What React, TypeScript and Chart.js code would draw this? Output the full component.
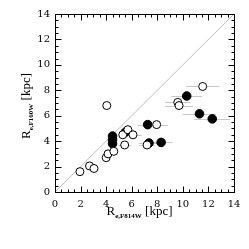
import React, { useEffect, useRef } from "react";
import { Chart, registerables } from "chart.js";

Chart.register(...registerables);

// Open circles
const openX = [1.95, 2.7, 3.05, 4.0, 4.15, 4.6, 4.05, 5.3, 5.45, 5.7, 6.1, 7.95, 7.2, 9.6, 9.7, 11.55];
const openY = [1.6, 2.05, 1.85, 2.7, 3.0, 3.2, 6.8, 4.5, 3.7, 4.9, 4.5, 5.3, 3.7, 7.05, 6.8, 8.3];
const openXErr = [0.1, 0.2, 0.2, 0.2, 0.2, 0.3, 0.35, 0.3, 0.5, 0.4, 0.7, 0.9, 0.6, 1.0, 1.1, 1.3];

// Filled circles
const filledX = [4.5, 4.5, 4.5, 5.5, 7.25, 7.35, 8.3, 10.3, 11.3, 12.3];
const filledY = [4.4, 4.1, 3.8, 4.7, 5.3, 3.85, 3.9, 7.55, 6.15, 5.75];
const filledXErr = [0.2, 0.2, 0.2, 0.4, 0.8, 0.8, 0.9, 1.2, 1.3, 1.4];

const axisMin = 0;
const axisMax = 14;
const majorStep = 2;
const minorStep = 0.5;

const serif = "'DejaVu Serif', serif";
const titleSerif = "'Liberation Serif', serif";

const drawSubLabel = (ctx: CanvasRenderingContext2D, main: string, sub: string, rest: string) => {
  const mainFont = `13px ${titleSerif}`;
  const subFont = `bold 7px ${titleSerif}`;
  ctx.font = mainFont;
  const w1 = ctx.measureText(main).width;
  const w3 = ctx.measureText(rest).width;
  ctx.font = subFont;
  const w2 = ctx.measureText(sub).width;
  const total = w1 + w2 + w3;
  let x = -total / 2;
  ctx.textBaseline = "alphabetic";
  ctx.textAlign = "left";
  ctx.font = mainFont;
  ctx.fillText(main, x, 0);
  x += w1;
  ctx.font = subFont;
  ctx.fillText(sub, x, 3);
  x += w2;
  ctx.font = mainFont;
  ctx.fillText(rest, x, 0);
};

const framePlugin = {
  id: "frame",
  beforeDatasetsDraw(chart: any) {
    const { ctx, chartArea, scales } = chart;
    const xs = scales.x;
    const ys = scales.y;
    ctx.save();
    ctx.beginPath();
    ctx.rect(chartArea.left, chartArea.top, chartArea.right - chartArea.left, chartArea.bottom - chartArea.top);
    ctx.clip();
    // diagonal y = x
    ctx.strokeStyle = "#bdbdbd";
    ctx.lineWidth = 1;
    ctx.beginPath();
    ctx.moveTo(xs.getPixelForValue(axisMin), ys.getPixelForValue(axisMin));
    ctx.lineTo(xs.getPixelForValue(axisMax), ys.getPixelForValue(axisMax));
    ctx.stroke();
    // error bars
    ctx.strokeStyle = "#c8c8c8";
    const bars = (X: number[], Y: number[], E: number[]) => {
      X.forEach((xv, i) => {
        const py = Math.round(ys.getPixelForValue(Y[i])) + 0.5;
        ctx.beginPath();
        ctx.moveTo(xs.getPixelForValue(xv - E[i]), py);
        ctx.lineTo(xs.getPixelForValue(xv + E[i]), py);
        ctx.stroke();
      });
    };
    bars(openX, openY, openXErr);
    bars(filledX, filledY, filledXErr);
    ctx.restore();
  },
  afterDraw(chart: any) {
    const { ctx, chartArea, scales } = chart;
    const xs = scales.x;
    const ys = scales.y;
    const L = Math.round(chartArea.left) + 0.5;
    const R = Math.round(chartArea.right) + 0.5;
    const T = Math.round(chartArea.top) + 0.5;
    const B = Math.round(chartArea.bottom) + 0.5;
    ctx.save();
    ctx.strokeStyle = "#000";
    ctx.lineWidth = 1;
    ctx.strokeRect(L, T, R - L, B - T);
    ctx.beginPath();
    for (let v = axisMin; v <= axisMax + 1e-9; v += minorStep) {
      const major = Math.abs(v / majorStep - Math.round(v / majorStep)) < 1e-6;
      const len = major ? 6 : 3;
      const px = Math.round(xs.getPixelForValue(v)) + 0.5;
      const py = Math.round(ys.getPixelForValue(v)) + 0.5;
      ctx.moveTo(px, B);
      ctx.lineTo(px, B - len);
      ctx.moveTo(px, T);
      ctx.lineTo(px, T + len);
      ctx.moveTo(L, py);
      ctx.lineTo(L + len, py);
      ctx.moveTo(R, py);
      ctx.lineTo(R - len, py);
    }
    ctx.stroke();
    ctx.fillStyle = "#000";
    // x title
    ctx.save();
    ctx.translate((chartArea.left + chartArea.right) / 2 - 5, chartArea.bottom + 23);
    drawSubLabel(ctx, "R", "e,F814W", " [kpc]");
    ctx.restore();
    // y title
    ctx.save();
    ctx.translate(30, (chartArea.top + chartArea.bottom) / 2 + 3);
    ctx.rotate(-Math.PI / 2);
    drawSubLabel(ctx, "R", "e,F160W", " [kpc]");
    ctx.restore();
    ctx.restore();
  },
};

export default function App() {
  const ref = useRef<HTMLCanvasElement>(null);
  useEffect(() => {
    if (!ref.current) return;
    const chart = new Chart(ref.current, {
      type: "scatter",
      data: {
        datasets: [
          {
            label: "open",
            data: openX.map((x, i) => ({ x, y: openY[i] })),
            pointRadius: 4,
            pointBackgroundColor: "#ffffff",
            pointBorderColor: "#000000",
            pointBorderWidth: 1,
          },
          {
            label: "filled",
            data: filledX.map((x, i) => ({ x, y: filledY[i] })),
            pointRadius: 4.3,
            pointBackgroundColor: "#000000",
            pointBorderColor: "#000000",
            pointBorderWidth: 1,
          },
        ],
      },
      options: {
        responsive: false,
        animation: false,
        devicePixelRatio: 1,
        layout: { padding: { top: 14, right: 15, left: 0, bottom: 0 } },
        plugins: { legend: { display: false }, tooltip: { enabled: false }, title: { display: false } },
        scales: {
          x: {
            type: "linear",
            min: axisMin,
            max: axisMax,
            afterFit: (s: any) => {
              s.height = 57;
            },
            grid: { display: false, drawTicks: false },
            border: { display: false },
            ticks: {
              stepSize: majorStep,
              color: "#000",
              padding: 6,
              maxRotation: 0,
              font: { family: serif, size: 10 },
            },
          },
          y: {
            type: "linear",
            min: axisMin,
            max: axisMax,
            afterFit: (s: any) => {
              s.width = 55;
            },
            grid: { display: false, drawTicks: false },
            border: { display: false },
            ticks: {
              stepSize: majorStep,
              color: "#000",
              padding: 5,
              font: { family: serif, size: 10 },
            },
          },
        },
      },
      plugins: [framePlugin],
    });
    return () => chart.destroy();
  }, []);
  return (
    <div style={{ position: "fixed", left: 0, top: 0, width: 249, height: 249, background: "#fff" }}>
      <canvas ref={ref} width={249} height={249} style={{ display: "block" }} />
    </div>
  );
}
